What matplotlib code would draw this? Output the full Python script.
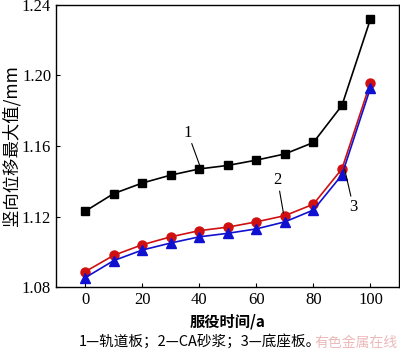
import matplotlib
matplotlib.use("Agg")
import matplotlib.pyplot as plt

# service time (a) and max vertical displacement (mm)
years = [0, 10, 20, 30, 40, 50, 60, 70, 80, 90, 100]
track_slab = [1.123, 1.133, 1.139, 1.1435, 1.147, 1.149, 1.152, 1.1555, 1.162, 1.183, 1.232]
ca_mortar = [1.0887, 1.098, 1.104, 1.1085, 1.112, 1.114, 1.117, 1.1205, 1.127, 1.147, 1.196]
base_plate = [1.0853, 1.095, 1.101, 1.105, 1.1085, 1.1105, 1.113, 1.117, 1.1237, 1.1436, 1.193]

xticks = [0, 20, 40, 60, 80, 100]
yticks = [1.08, 1.12, 1.16, 1.20, 1.24]

cjk = ['Noto Sans CJK SC', 'DejaVu Sans']
serif = 'Liberation Serif'

fig = plt.figure(figsize=(4.0, 3.54), dpi=100)
ax = fig.add_axes([0.14, 0.189, 0.8575, 0.797])

ax.plot(years, track_slab, color='black', marker='s', ms=6, lw=1.2)
ax.plot(years, ca_mortar, color='#d01010', marker='o', ms=6.5, lw=1.2)
ax.plot(years, base_plate, color='#1010d0', marker='^', ms=6.5, lw=1.2)

ax.set_xlim(-10.2, 110)
ax.set_ylim(1.08, 1.24)
ax.set_xticks(xticks)
ax.set_xticklabels([str(v) for v in xticks], fontfamily=serif, fontsize=12)
ax.set_yticks(yticks)
ax.set_yticklabels([f'{v:.2f}' for v in yticks], fontfamily=serif, fontsize=12)
ax.tick_params(direction='in', length=3, width=0.8, top=False, right=False)
for s in ax.spines.values():
    s.set_linewidth(1.0)

# curve labels with leader lines
ax.annotate('1', xy=(40.5, 1.1475), xytext=(36, 1.163), fontsize=12, fontfamily=serif,
            ha='center', va='bottom', arrowprops=dict(arrowstyle='-', lw=0.8, color='black', shrinkA=0, shrinkB=0))
ax.annotate('2', xy=(69.5, 1.122), xytext=(67.5, 1.136), fontsize=12, fontfamily=serif,
            ha='center', va='bottom', arrowprops=dict(arrowstyle='-', lw=0.8, color='black', shrinkA=0, shrinkB=0))
ax.annotate('3', xy=(91, 1.1465), xytext=(94, 1.130), fontsize=12, fontfamily=serif,
            ha='center', va='top', arrowprops=dict(arrowstyle='-', lw=0.8, color='black', shrinkA=0, shrinkB=0))

ax.set_ylabel('竖向位移最大值/mm', family=cjk, fontsize=12.5, labelpad=1)
ax.set_xlabel('服役时间/a', family=cjk, fontsize=11, fontweight='bold', labelpad=4)

fig.text(0.5, 0.035, '1—轨道板；2—CA砂浆；3—底座板。', family=cjk, fontsize=10.5,
         ha='center', va='center')
fig.text(0.995, 0.03, '有色金属在线', family=cjk, fontsize=10, color='#e8a8a8',
         ha='right', va='center', alpha=0.8)

fig.savefig('out.png', dpi=100)
